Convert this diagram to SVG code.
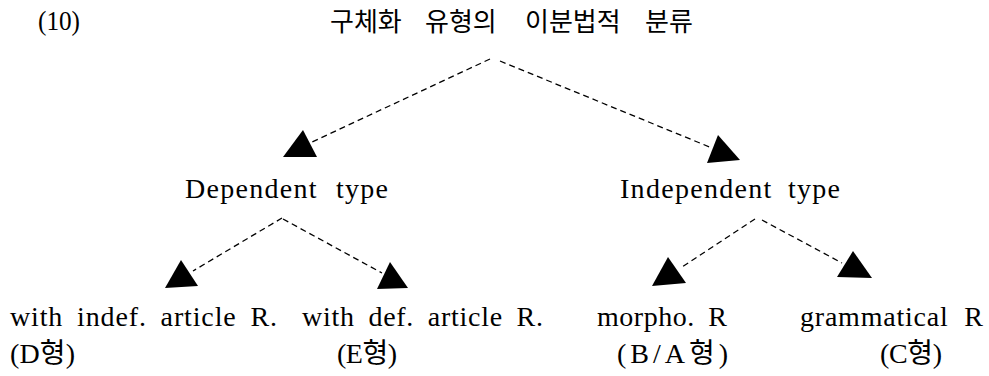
<svg xmlns="http://www.w3.org/2000/svg" width="989" height="376" viewBox="0 0 989 376">
  <style>
    .lbl { font-family: "Liberation Serif", "Noto Sans CJK KR", serif; font-size: 28px; fill: #000; }
    .ko { font-family: "Noto Sans CJK KR", "Liberation Serif", serif; font-size: 26px; fill: #000; }
    .edge { stroke: #000; stroke-width: 1.3; stroke-dasharray: 6 4; fill: none; }
    .head { fill: #000; stroke: none; }
  </style>
  <rect width="989" height="376" fill="#fff"/>

  <text class="lbl" x="38" y="30" textLength="42" lengthAdjust="spacingAndGlyphs">(10)</text>

  <g id="root">
    <text class="ko" y="31"><tspan x="330">구체화</tspan> <tspan x="425">유형의</tspan> <tspan x="525">이분법적</tspan> <tspan x="645">분류</tspan></text>
  </g>

  <g id="dependent">
    <text class="lbl" x="185" y="198" word-spacing="10" textLength="203" lengthAdjust="spacing">Dependent type</text>
  </g>
  <g id="independent">
    <text class="lbl" x="620" y="198" word-spacing="7" textLength="220" lengthAdjust="spacing">Independent type</text>
  </g>

  <g id="indef-article">
    <text class="lbl" x="10" y="326" word-spacing="6" textLength="267" lengthAdjust="spacing">with indef. article R.</text>
    <text class="lbl" x="10" y="363" textLength="65" lengthAdjust="spacing">(D형)</text>
  </g>
  <g id="def-article">
    <text class="lbl" x="302" y="326" word-spacing="6" textLength="241" lengthAdjust="spacing">with def. article R.</text>
    <text class="lbl" x="337" y="363" textLength="60" lengthAdjust="spacing">(E형)</text>
  </g>
  <g id="morpho">
    <text class="lbl" x="597" y="326" word-spacing="6" textLength="130" lengthAdjust="spacing">morpho. R</text>
    <text class="lbl" x="617" y="363" textLength="111" lengthAdjust="spacing">(B/A형)</text>
  </g>
  <g id="grammatical">
    <text class="lbl" x="800" y="326" word-spacing="8" textLength="183" lengthAdjust="spacing">grammatical R</text>
    <text class="lbl" x="880" y="363" textLength="62" lengthAdjust="spacing">(C형)</text>
  </g>

  <g id="connectors">
    <line class="edge" x1="490" y1="59" x2="312" y2="142"/>
    <polygon class="head" points="283,157 303,130 317,157"/>
    <line class="edge" x1="500" y1="61" x2="712" y2="148"/>
    <polygon class="head" points="707,163 718,135 740,160"/>

    <line class="edge" x1="282" y1="218" x2="193" y2="271"/>
    <polygon class="head" points="165,288 181,260 198,286"/>
    <line class="edge" x1="283" y1="219" x2="382" y2="273"/>
    <polygon class="head" points="377,289 390,262 408,288"/>

    <line class="edge" x1="755" y1="219" x2="682" y2="267"/>
    <polygon class="head" points="652,286 668,257 686,283"/>
    <line class="edge" x1="762" y1="220" x2="842" y2="263"/>
    <polygon class="head" points="837,277 853,251 872,278"/>
  </g>
</svg>
